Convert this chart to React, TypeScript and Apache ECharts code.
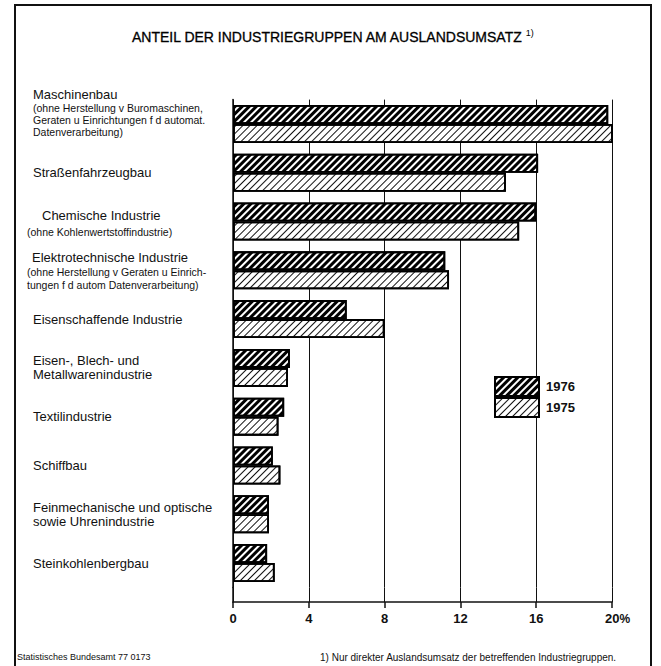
import React, { useEffect, useRef } from 'react';
import * as echarts from 'echarts';

// ---- data ----
const categories = [
  'Maschinenbau',
  'Straßenfahrzeugbau',
  'Chemische Industrie',
  'Elektrotechnische Industrie',
  'Eisenschaffende Industrie',
  'Eisen-, Blech- und',
  'Textilindustrie',
  'Schiffbau',
  'Feinmechanische und optische',
  'Steinkohlenbergbau',
];
// continuation lines printed in the main label size
const labelCont: string[][] = [[], [], [], [], [], ['Metallwarenindustrie'], [], [], ['sowie Uhrenindustrie'], []];
// small explanatory lines
const labelNotes: string[][] = [
  ['(ohne Herstellung v Buromaschinen,', 'Geraten u Einrichtungen f d automat.', 'Datenverarbeitung)'],
  [],
  ['(ohne Kohlenwertstoffindustrie)'],
  ['(ohne Herstellung v Geraten u Einrich-', 'tungen f d autom Datenverarbeitung)'],
  [],
  [],
  [],
  [],
  [],
  [],
];
const seriesNames = ['1976', '1975'];
const values1976 = [19.8, 16.1, 16.0, 11.2, 6.0, 3.0, 2.7, 2.1, 1.9, 1.8];
const values1975 = [20.2, 14.4, 15.1, 11.4, 8.0, 2.9, 2.4, 2.5, 1.9, 2.2];
const xTicks = [0, 4, 8, 12, 16, 20];
const unit = '%';
const titleText = 'ANTEIL DER INDUSTRIEGRUPPEN AM AUSLANDSUMSATZ';
const titleNote = '1)';
const sourceText = 'Statistisches Bundesamt 77 0173';
const footnoteText = '1) Nur direkter Auslandsumsatz der betreffenden Industriegruppen.';

const FONT = "'Liberation Sans', Arial, sans-serif";

function yLabel(val: string, idx: number): string {
  const mainStyle = idx === 0 ? 'm0' : idx === 2 ? 'mc' : idx === 3 ? 'me' : 'm';
  const lines: string[] = [`{${mainStyle}|${val}}`];
  labelCont[idx].forEach((l) => lines.push(`{m|${l}}`));
  labelNotes[idx].forEach((l) => lines.push(`{${idx === 0 ? 's' : 's2'}|${l}}`));
  if (idx === 0) lines.push('{sp| }');
  return lines.join('\n');
}

export default function App() {
  const ref = useRef<HTMLDivElement>(null);
  useEffect(() => {
    if (!ref.current) return;
    const chart = echarts.init(ref.current, null, { renderer: 'svg' });
    const mainTop = 99.6;
    const mainBottom = 587.4;
    const axisY = 602;
    const H = 666;
    const decalDark = {
      symbol: 'rect',
      symbolSize: 1,
      color: '#000',
      dashArrayX: [1, 0],
      dashArrayY: [2.6, 1.6],
      rotation: -Math.PI / 4,
    };
    const decalLight = {
      symbol: 'rect',
      symbolSize: 1,
      color: '#111',
      dashArrayX: [1, 0],
      dashArrayY: [1, 4],
      rotation: -Math.PI / 4,
    };
    const lastTick = xTicks[xTicks.length - 1];
    chart.setOption({
      animation: false,
      backgroundColor: '#fff',
      textStyle: { fontFamily: FONT, color: '#000' },
      title: [
        {
          text: `{a|${titleText}}{b|${titleNote}}`,
          left: 132,
          top: 28,
          padding: 0,
          textStyle: {
            rich: {
              a: { fontSize: 14, fontFamily: FONT, color: '#000', lineHeight: 16, fontWeight: 'normal', textBorderColor: '#000', textBorderWidth: 0.3 },
              b: { fontSize: 9, fontFamily: FONT, color: '#000', padding: [0, 0, 8, 2], fontWeight: 'normal' },
            },
          },
        },
        {
          text: sourceText,
          left: 17,
          top: 652,
          padding: 0,
          textStyle: { fontSize: 9, fontWeight: 'normal', fontFamily: FONT, color: '#111' },
        },
        {
          text: footnoteText,
          left: 320,
          top: 652,
          padding: 0,
          textStyle: { fontSize: 10, fontWeight: 'normal', fontFamily: FONT, color: '#111' },
        },
      ],
      legend: {
        data: seriesNames,
        orient: 'vertical',
        left: 494,
        top: 376,
        padding: 0,
        itemWidth: 44,
        itemHeight: 19,
        itemGap: 0,
        icon: 'rect',
        selectedMode: false,
        textStyle: { fontSize: 13, fontWeight: 'bold', fontFamily: FONT, color: '#111', lineHeight: 19, padding: [0, 0, 0, 2] },
      },
      grid: [
        { left: 233, right: 49, top: mainTop, bottom: H - mainBottom },
        { left: 233, right: 49, top: mainBottom, bottom: H - axisY },
      ],
      xAxis: [
        {
          type: 'value',
          gridIndex: 0,
          min: 0,
          max: 20,
          interval: 4,
          axisLine: { show: false },
          axisTick: { show: false },
          axisLabel: { show: false },
          splitLine: { show: true, lineStyle: { color: '#111', width: 1 } },
        },
        {
          type: 'value',
          gridIndex: 1,
          min: 0,
          max: 20,
          interval: 4,
          position: 'bottom',
          axisLine: { show: true, lineStyle: { color: '#111', width: 1.5 } },
          axisTick: { show: true, length: 6, lineStyle: { color: '#111', width: 1.5 } },
          splitLine: { show: true, lineStyle: { color: '#111', width: 1 } },
          axisLabel: {
            margin: 10,
            fontSize: 13,
            fontWeight: 'bold',
            fontFamily: FONT,
            color: '#111',
            formatter: (v: number) => (v === lastTick ? `{pad|}{n|${v}}{p|${unit}}` : `${v}`),
            rich: {
              pad: { width: 11 },
              n: { fontSize: 13, fontWeight: 'bold', fontFamily: FONT, color: '#111' },
              p: { fontSize: 12, fontWeight: 'bold', fontFamily: FONT, color: '#111' },
            },
          },
        },
      ],
      yAxis: [
        {
          type: 'category',
          gridIndex: 0,
          inverse: true,
          data: categories,
          axisLine: { show: true, lineStyle: { color: '#111', width: 1.5 } },
          axisTick: { show: false },
          splitLine: { show: false },
          axisLabel: {
            interval: 0,
            align: 'left',
            margin: 206,
            color: '#111',
            fontFamily: FONT,
            formatter: yLabel,
            rich: {
              m: { fontSize: 13, lineHeight: 14, fontFamily: FONT, color: '#111', padding: [0, 0, 0, 6] },
              m0: { fontSize: 13, lineHeight: 15, fontFamily: FONT, color: '#111', padding: [0, 0, 0, 6] },
              mc: { fontSize: 13, lineHeight: 20, fontFamily: FONT, color: '#111', padding: [0, 0, 0, 15] },
              me: { fontSize: 13, lineHeight: 16, fontFamily: FONT, color: '#111', padding: [0, 0, 0, 5] },
              s: { fontSize: 10.5, lineHeight: 12, fontFamily: FONT, color: '#111', padding: [0, 0, 0, 6] },
              s2: { fontSize: 10.5, lineHeight: 13, fontFamily: FONT, color: '#111' },
              sp: { fontSize: 10, lineHeight: 23 },
            },
          },
        },
        {
          type: 'value',
          gridIndex: 1,
          min: 0,
          max: 1,
          axisLine: { show: true, lineStyle: { color: '#111', width: 1.5 } },
          axisTick: { show: false },
          axisLabel: { show: false },
          splitLine: { show: false },
        },
      ],
      series: [
        {
          name: seriesNames[0],
          type: 'bar',
          xAxisIndex: 0,
          yAxisIndex: 0,
          data: values1976,
          barWidth: 19,
          barGap: '0%',
          itemStyle: { color: '#fff', borderColor: '#000', borderWidth: 1.8, decal: decalDark },
        },
        {
          name: seriesNames[1],
          type: 'bar',
          xAxisIndex: 0,
          yAxisIndex: 0,
          data: values1975,
          barWidth: 19,
          barGap: '0%',
          itemStyle: { color: '#fff', borderColor: '#000', borderWidth: 1.8, decal: decalLight },
        },
      ],
      graphic: [
        {
          type: 'polyline',
          silent: true,
          shape: { points: [[15, 680], [15, 5], [651, 5], [651, 680]] },
          style: { stroke: '#111', lineWidth: 2, fill: null },
        },
      ],
    });
    return () => chart.dispose();
  }, []);
  return (
    <div
      ref={ref}
      style={{ position: 'fixed', left: 0, top: 0, width: 661, height: 666, background: '#fff' }}
    />
  );
}
